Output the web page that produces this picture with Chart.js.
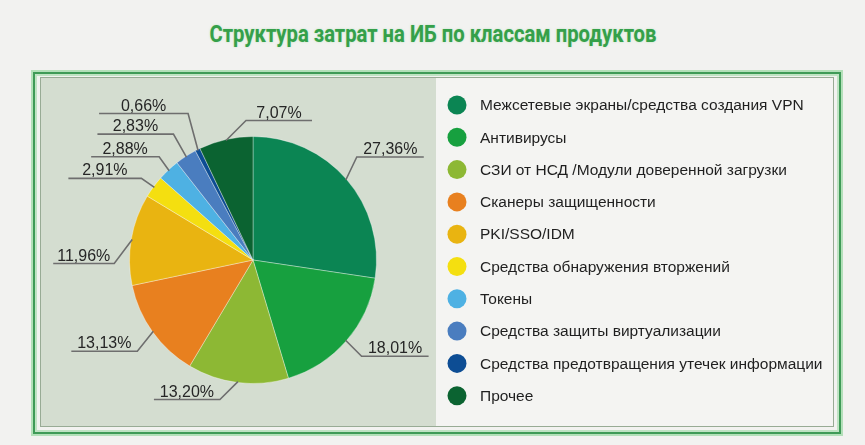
<!DOCTYPE html>
<html>
<head>
<meta charset="utf-8">
<script src="https://cdn.jsdelivr.net/npm/chart.js@4/dist/chart.umd.min.js"></script>
<style>
  html, body { margin: 0; padding: 0; }
  body { width: 865px; height: 445px; background: #f2f2f0; position: relative; overflow: hidden; font-family: "Liberation Sans", Arial, sans-serif; }
  #title { position: absolute; left: 0; top: 21px; width: 865px; text-align: center; font-family: Roboto, "Liberation Sans", sans-serif; font-weight: 700; font-size: 23px; color: #35a04a; }
  #title span { display: inline-block; transform: scaleX(0.88); transform-origin: center; text-shadow: 0 0 2px rgba(120,210,130,0.5); }
  #outer { position: absolute; left: 33px; top: 72px; width: 804px; height: 358px; border: 2px solid #3f9a57; box-shadow: 0 0 0 2px #b3e0b9, inset 0 0 0 2px #bfe3c3; }
  #inner { position: absolute; left: 40px; top: 77px; width: 792px; height: 348px; border: 1px solid #98ab95; background: #f4f4f2; }
  #leftpanel { position: absolute; left: 41px; top: 78px; width: 395px; height: 348px; background: #d4ddd0; }
  canvas { position: absolute; left: 0; top: 0; }
</style>
</head>
<body>
<div id="title"><span>Структура затрат на ИБ по классам продуктов</span></div>
<div id="outer"></div>
<div id="inner"></div>
<div id="leftpanel"></div>
<canvas id="c" width="865" height="445"></canvas>
<script>
// ---- data ----
const categories = [
  "Межсетевые экраны/средства создания VPN",
  "Антивирусы",
  "СЗИ от НСД /Модули доверенной загрузки",
  "Сканеры защищенности",
  "PKI/SSO/IDM",
  "Средства обнаружения вторжений",
  "Токены",
  "Средства защиты виртуализации",
  "Средства предотвращения утечек информации",
  "Прочее"
];
const shares = [27.36, 18.01, 13.20, 13.13, 11.96, 2.91, 2.88, 2.83, 0.66, 7.07];
const valueLabels = ["27,36%", "18,01%", "13,20%", "13,13%", "11,96%", "2,91%", "2,88%", "2,83%", "0,66%", "7,07%"];

// ---- styles / layout (kept separate from data) ----
const sliceColors = ["#0b8553", "#17a03f", "#8db834", "#e8801f", "#e9b411", "#f4df10", "#4eb1e3", "#4a7dbf", "#0d4d94", "#0b6331"];
// leader line: elbow offset from slice edge point [dx, dy], then horizontal run length (sign = direction)
const leaderLayout = [
  [11, -23, 67], [16, 16, 67], [-18, 18, -66], [-16, 20, -66], [-18, 24, -61],
  [-13, -9, -73], [-10, -14, -68], [-13, -23, -76], [-10, -37, -89], [20, -20, 66]
];

const leaderPlugin = {
  id: 'leaders',
  afterDatasetsDraw(chart) {
    const ctx = chart.ctx;
    const meta = chart.getDatasetMeta(0);
    ctx.save();
    meta.data.forEach((arc, i) => {
      const p = arc.getProps(['x', 'y', 'startAngle', 'endAngle', 'outerRadius'], true);
      const mid = (p.startAngle + p.endAngle) / 2;
      const r = p.outerRadius - 1;
      const ax = p.x + Math.cos(mid) * r;
      const ay = p.y + Math.sin(mid) * r;
      const [dx, dy, len] = leaderLayout[i];
      const ex = ax + dx, ey = ay + dy;
      const fx = ex + len;
      ctx.strokeStyle = '#6e6e6e';
      ctx.lineWidth = 1.6;
      ctx.beginPath();
      ctx.moveTo(ax, ay);
      ctx.lineTo(ex, ey);
      ctx.lineTo(fx, ey);
      ctx.stroke();
      ctx.fillStyle = '#262626';
      ctx.font = '16px "Liberation Sans", Arial, sans-serif';
      ctx.textAlign = 'center';
      ctx.textBaseline = 'alphabetic';
      ctx.fillText(valueLabels[i], (ex + fx) / 2, ey - 3);
    });
    ctx.restore();
  }
};

const legendPlugin = {
  id: 'sideLegend',
  afterDraw(chart) {
    const ctx = chart.ctx;
    const labels = chart.data.labels;
    const colors = chart.data.datasets[0].backgroundColor;
    ctx.save();
    labels.forEach((lab, i) => {
      const y = 105 + i * 32.3;
      ctx.fillStyle = colors[i];
      ctx.beginPath();
      ctx.arc(457, y, 9.5, 0, Math.PI * 2);
      ctx.fill();
      ctx.fillStyle = '#1f1f1f';
      ctx.font = '15.5px "Liberation Sans", Arial, sans-serif';
      ctx.textAlign = 'left';
      ctx.textBaseline = 'middle';
      ctx.fillText(lab, 480, y + 1);
    });
    ctx.restore();
  }
};

new Chart(document.getElementById('c'), {
  type: 'pie',
  data: {
    labels: categories,
    datasets: [{
      data: shares,
      backgroundColor: sliceColors,
      borderColor: 'rgba(255,255,255,0.35)',
      borderWidth: 1
    }]
  },
  options: {
    responsive: false,
    animation: false,
    layout: { padding: { left: 129, right: 488, top: 136, bottom: 61 } },
    plugins: {
      legend: { display: false },
      tooltip: { enabled: false },
      title: { display: false }
    }
  },
  plugins: [leaderPlugin, legendPlugin]
});
</script>
</body>
</html>
